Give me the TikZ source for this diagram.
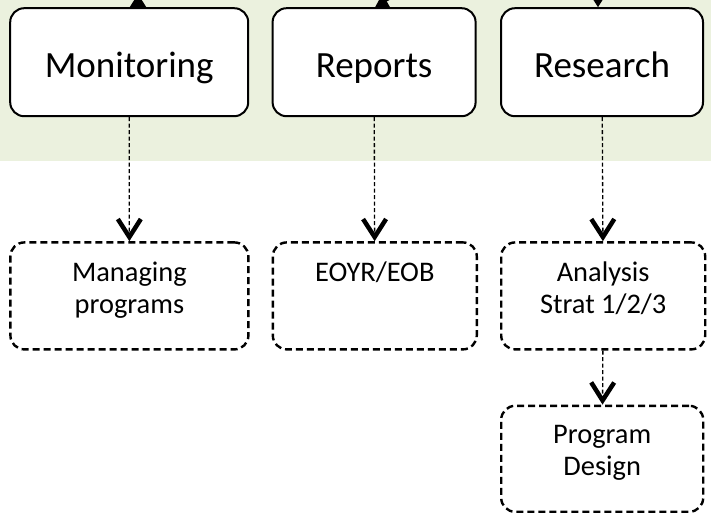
\documentclass[tikz,border=0pt]{standalone}
\usepackage{fontspec}
\setmainfont{Carlito}
\usetikzlibrary{arrows.meta}
\definecolor{bggreen}{HTML}{EBF1DE}

\begin{document}
\begin{tikzpicture}[x=1pt,y=-1pt,ampersand replacement=\&,
    mainbox/.style={draw,fill=white,line width=2pt,rounded corners=14pt,minimum height=108pt,inner sep=0pt,text height=32pt,text depth=2pt,font=\fontsize{37}{44}\selectfont},
    subbox/.style={draw,fill=white,line width=2.4pt,dash pattern=on 7pt off 4pt,rounded corners=14pt,minimum height=107pt,align=center,inner sep=0pt,text depth=17pt,font=\fontsize{28.4}{32}\selectfont},
    link/.style={line width=1.3pt,dash pattern=on 4pt off 2.5pt,-{Straight Barb[length=18pt,width=23pt,line width=4.5pt]}},
    feed/.style={line width=1.5pt,-{Triangle[length=13pt,width=16pt]}}]
    \clip (0,0) rectangle (711,512);
    \fill[bggreen] (0,0) rectangle (711,161);
    \matrix[anchor=north west,inner sep=0pt,column sep=22pt] at (9,7)
    {
    \node[mainbox,minimum width=238pt](mon){Monitoring}; \& \node[mainbox,minimum width=203pt](rep){Reports}; \& \node[mainbox,minimum width=202pt](res){Research}; \\[124pt]
    \node[subbox,minimum width=238pt](man){Managing\\programs}; \& \node[subbox,minimum width=204pt](eoyr){EOYR/EOB\\\mbox{}}; \& \node[subbox,minimum width=204pt](ana){Analysis\\Strat 1/2/3}; \\[54pt]
    \& \& \node[subbox,minimum width=202pt,minimum height=106pt](prog){Program\\Design}; \\
    };
    \coordinate (t1) at (138,-6);
    \coordinate (t2) at (420,-18);
    \coordinate (t3) at (598,-40);
    \draw[feed] (t1 |- mon.north) -- (t1);
    \draw[feed] (t2) -- ([xshift=1pt]rep.north);
    \draw[feed] (t3) -- (t3 |- res.north);
    \draw[link] (mon) -- (man);
    \draw[link] (rep) -- (eoyr);
    \draw[link] (res) -- (ana);
    \draw[link] (ana) -- (prog);
    \end{tikzpicture}
\end{document}
